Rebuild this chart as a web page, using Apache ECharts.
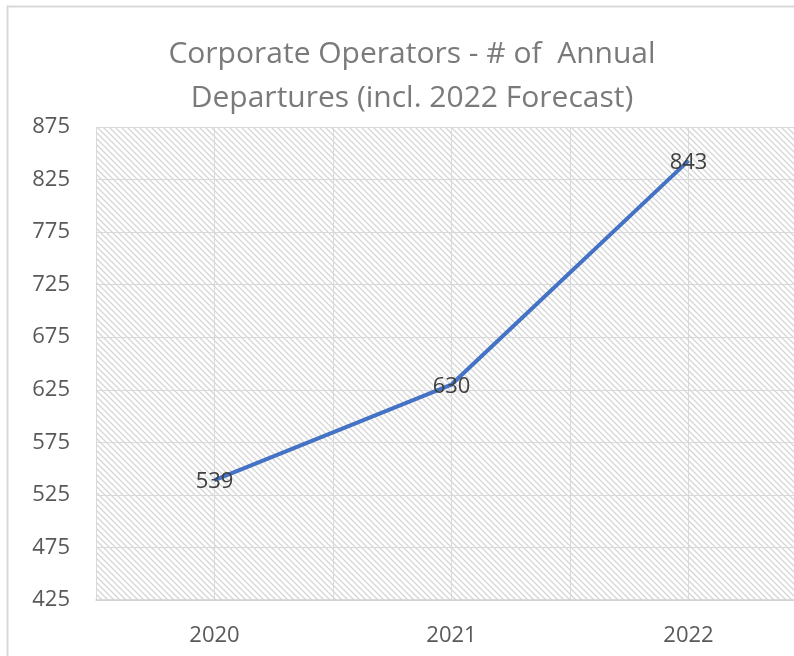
<!DOCTYPE html>
<html><head><meta charset="utf-8">
<script src="https://cdn.jsdelivr.net/npm/echarts@6/dist/echarts.min.js"></script>
<style>html,body{margin:0;padding:0;background:#fff}#c{width:794px;height:656px}</style>
</head><body><div id="c"></div>
<script>
var titleLines = ['Corporate Operators - # of  Annual', 'Departures (incl. 2022 Forecast)'];
var categories = ['2020', '2021', '2022'];
var departures = [539, 630, 843];
var yMin = 425, yMax = 875, yStep = 50;

// hatch pattern
var pc = document.createElement('canvas');
pc.width = 6; pc.height = 6;
var g = pc.getContext('2d');
g.fillStyle = '#ffffff'; g.fillRect(0,0,6,6);
g.strokeStyle = '#d6d6d6'; g.lineWidth = 1.3;
g.beginPath();
g.moveTo(-1,-1); g.lineTo(7,7);
g.moveTo(-1,5); g.lineTo(1,7);
g.moveTo(5,-1); g.lineTo(7,1);
g.stroke();

// x positions: category index; the plot is cut at the right edge of the picture
var xMin = -0.5, xMax = 2.445;
var points = departures.map(function (v, i) { return [i, v]; });

var FONT = 'Open Sans, Noto Sans, sans-serif';
var chart = echarts.init(document.getElementById('c'));
chart.setOption({
  animation: false,
  backgroundColor: '#ffffff',
  title: {
    text: titleLines.join('\n'),
    left: 407, top: 27, textAlign: 'center',
    textStyle: {fontFamily: FONT, fontWeight: 'normal', fontSize: 30, color: '#7a7a7a', lineHeight: 44}
  },
  graphic: [{
    type: 'rect', shape: {x: 7.5, y: 6.5, width: 800, height: 660},
    style: {fill: 'none', stroke: '#d9d9d9', lineWidth: 2}, z: 100
  }],
  grid: {
    left: 96, right: 0, top: 127, bottom: 56,
    show: true, borderWidth: 0,
    backgroundColor: {image: pc, repeat: 'repeat'}
  },
  xAxis: {
    type: 'value', min: xMin, max: xMax, interval: 0.5,
    axisLine: {show: true, onZero: false, lineStyle: {color: '#d0d0d0', width: 1.5}},
    axisTick: {show: false},
    axisLabel: {
      color: '#595959', fontSize: 22, margin: 25, fontFamily: FONT,
      showMinLabel: false, showMaxLabel: false,
      formatter: function (v) {
        var r = Math.round(v);
        return Math.abs(v - r) < 1e-6 && categories[r] !== undefined ? categories[r] : '';
      }
    },
    splitLine: {show: true, lineStyle: {color: '#d9d9d9', width: 1}}
  },
  yAxis: {
    type: 'value', min: yMin, max: yMax, interval: yStep,
    axisLine: {show: false}, axisTick: {show: false},
    axisLabel: {color: '#595959', fontSize: 22, margin: 26, fontFamily: FONT},
    splitLine: {show: true, lineStyle: {color: '#d9d9d9', width: 1}}
  },
  series: [{
    type: 'line', data: points,
    symbol: 'circle', symbolSize: 1, showSymbol: true,
    itemStyle: {color: 'rgba(0,0,0,0)'},
    smooth: false,
    lineStyle: {color: '#4472C4', width: 4},
    label: {show: true, position: 'inside', offset: [0, 2], color: '#404040', fontSize: 22, fontFamily: FONT,
      formatter: function (p) { return p.value[1]; }},
    z: 10
  }]
});
</script></body></html>
